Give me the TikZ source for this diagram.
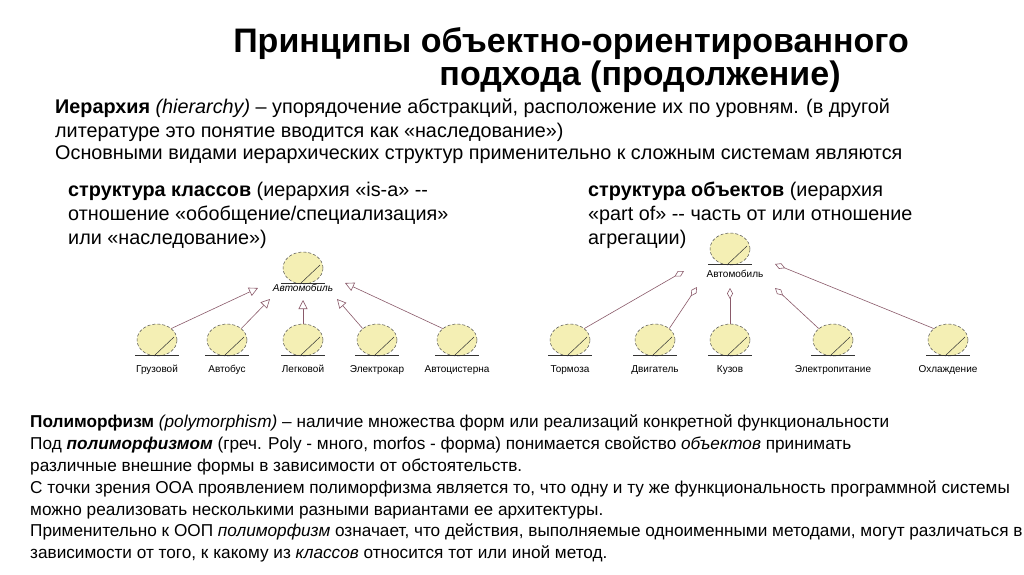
\documentclass[tikz,border=0pt]{standalone}
\usepackage{fontspec}
\setmainfont{Liberation Sans}
\usetikzlibrary{arrows.meta,shapes.geometric}
\definecolor{fillc}{HTML}{F4EFB4}
\definecolor{linec}{HTML}{8A5A6A}
\begin{document}
\begin{tikzpicture}[x=1pt,y=-1pt,
  txt/.style={anchor=base west,inner sep=0pt,font=\fontsize{19.8}{22}\selectfont},
  ptxt/.style={anchor=base west,inner sep=0pt,font=\fontsize{17.2}{20}\selectfont},
  ttl/.style={anchor=base,inner sep=0pt,font=\fontsize{34}{38}\selectfont\bfseries},
  lbl/.style={anchor=base,inner sep=0pt,font=\fontsize{10}{11}\selectfont},
  conn/.style={draw=linec,line width=0.6pt},
  gen/.style={conn,-{Triangle[open,length=9pt,width=9pt]}},
  agg/.style={conn,-{Diamond[open,length=11pt,width=6pt]}}]
\useasboundingbox (0,0) rectangle (1024,574);
\fill[white] (0,0) rectangle (1024,574);
\newcommand{\obj}[3]{%
  \node[draw=black!70,densely dashed,fill=fillc,ellipse,minimum width=40pt,minimum height=32pt,inner sep=0pt,line width=0.5pt] (#1) at (#2,#3) {};
  \draw[black!80,line width=0.5pt] (#2-22,#3+15) -- (#2+22,#3+15);
  \draw[black!80,line width=0.5pt] (#2-2,#3+15) -- (#2+17,#3-3);}
% title
\node[ttl] (t1) at (571,52) {Принципы объектно-ориентированного};
\node[ttl] (t2) at (640,85) {подхода (продолжение)};
% hierarchy text
\node[txt] (h1) at (55,113) {\textbf{Иерархия} \textit{(hierarchy)} – упорядочение абстракций, расположение их по уровням. (в другой};
\node[txt] (h2) at (55,137) {литературе это понятие вводится как «наследование»)};
\node[txt] (h3) at (55,159) {Основными видами иерархических структур применительно к сложным системам являются};
\node[txt] (l1) at (68,196) {\textbf{структура классов} (иерархия «is-a» {-}{-}};
\node[txt] (l2) at (68,220) {отношение «обобщение/специализация»};
\node[txt] (l3) at (68,244) {или «наследование»)};
\node[txt] (r1) at (588,196) {\textbf{структура объектов} (иерархия};
\node[txt] (r2) at (588,220) {«part of» {-}{-} часть от или отношение};
\node[txt] (r3) at (588,244) {агрегации)};
% left tree
\obj{A}{303}{268}
\node[lbl,font=\fontsize{10}{11}\selectfont\itshape] (Al) at (303,291) {Автомобиль};
\obj{c1}{157}{340}\obj{c2}{227}{340}\obj{c3}{303}{340}\obj{c4}{377}{340}\obj{c5}{457}{340}
\node[lbl] (c1l) at (157,372) {Грузовой};
\node[lbl] (c2l) at (227,372) {Автобус};
\node[lbl] (c3l) at (303,372) {Легковой};
\node[lbl] (c4l) at (377,372) {Электрокар};
\node[lbl] (c5l) at (457,372) {Автоцистерна};
\coordinate (g1) at (258,288);\coordinate (g2) at (270,299);\coordinate (g3) at (303,300);
\coordinate (g4) at (337,299);\coordinate (g5) at (345,283);
\draw[gen] (c1.north east) -- (g1);
\draw[gen] (c2.north east) -- (g2);
\draw[gen] (c3.north) -- (g3);
\draw[gen] (c4.north west) -- (g4);
\draw[gen] (c5.north west) -- (g5);
% right tree
\obj{B}{730}{249}
\node[lbl] (Bl) at (735,277) {Автомобиль};
\obj{d1}{570}{340}\obj{d2}{655}{340}\obj{d3}{730}{340}\obj{d4}{833}{340}\obj{d5}{948}{340}
\node[lbl] (d1l) at (570,372) {Тормоза};
\node[lbl] (d2l) at (655,372) {Двигатель};
\node[lbl] (d3l) at (730,372) {Кузов};
\node[lbl] (d4l) at (833,372) {Электропитание};
\node[lbl] (d5l) at (948,372) {Охлаждение};
\coordinate (e1) at (684,271);\coordinate (e2) at (697,287);\coordinate (e3) at (730,288);
\coordinate (e4) at (775,288);\coordinate (e5) at (775,264);
\draw[agg] (d1.north east) -- (e1);
\draw[agg] (d2.north east) -- (e2);
\draw[agg] (d3.north) -- (e3);
\draw[agg] (d4.north west) -- (e4);
\draw[agg] (d5.north west) -- (e5);
% polymorphism
\node[ptxt] (p1) at (30,427) {\textbf{Полиморфизм} \textit{(polymorphism)} – наличие множества форм или реализаций конкретной  функциональности};
\node[ptxt] (p2) at (30,449) {Под \textbf{\textit{полиморфизмом}} (греч. Poly - много, morfos - форма) понимается свойство \textit{объектов} принимать};
\node[ptxt] (p3) at (30,471) {различные внешние формы в зависимости от обстоятельств.};
\node[ptxt] (p4) at (30,493) {С точки зрения ООА проявлением полиморфизма является то, что одну и ту же функциональность  программной системы};
\node[ptxt] (p5) at (30,515) {можно реализовать несколькими разными вариантами ее архитектуры.};
\node[ptxt] (p6) at (30,536) {Применительно к ООП \textit{полиморфизм} означает, что действия, выполняемые одноименными методами,  могут различаться в};
\node[ptxt] (p7) at (30,558) {зависимости от того, к какому из \textit{классов} относится тот или иной метод.};
\end{tikzpicture}
\end{document}
